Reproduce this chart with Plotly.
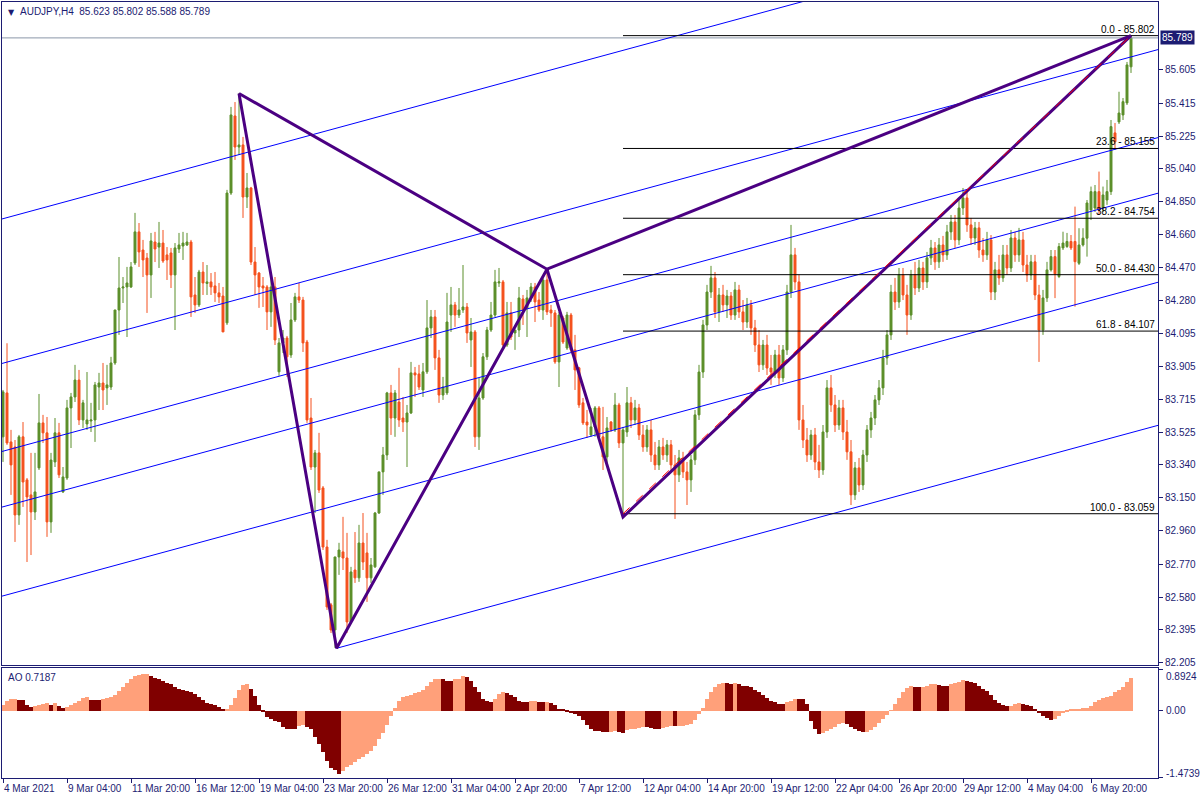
import plotly.graph_objects as go

# ---------------- data ----------------
opens = [83.500,83.752,83.471,83.442,83.052,83.500,83.253,83.167,83.069,83.322,
83.580,83.523,83.012,83.356,83.523,83.184,83.264,83.666,83.729,83.826,
83.597,83.574,83.591,83.597,83.786,83.809,83.781,83.786,83.924,84.228,
84.354,84.360,84.360,84.498,84.676,84.572,84.526,84.429,84.618,84.589,
84.612,84.544,84.555,84.429,84.578,84.595,84.601,84.618,84.314,84.257,
84.446,84.380,84.389,84.366,84.326,84.308,84.154,84.899,85.341,85.163,
85.175,84.876,84.928,84.503,84.440,84.366,84.360,84.217,84.360,83.873,
84.039,84.067,83.970,84.171,84.303,84.285,84.044,83.608,83.327,83.408,
83.207,82.868,82.536,82.392,82.811,82.840,82.805,82.438,82.736,82.691,
82.891,82.834,82.691,82.754,83.063,83.299,83.396,83.752,83.608,83.700,
83.608,83.585,83.637,83.867,83.861,83.769,83.873,84.125,84.188,83.953,
83.740,83.752,84.199,84.257,84.199,84.228,84.245,84.056,84.102,83.500,
83.723,83.959,84.113,84.199,84.383,84.389,84.027,84.211,84.096,84.113,
84.291,84.240,84.297,84.360,84.285,84.228,84.400,84.228,84.211,83.930,
84.182,84.010,84.199,83.999,83.896,83.695,83.585,83.511,83.557,83.666,
83.500,83.385,83.585,83.540,83.683,83.465,83.528,
83.695,83.597,83.666,83.511,83.442,83.540,83.396,83.339,83.442,83.396,
83.454,83.339,83.282,83.379,83.299,83.253,83.368,83.626,83.872,84.142,
84.331,84.412,84.217,84.314,84.257,84.308,84.199,84.343,84.217,84.159,
84.257,84.125,84.027,83.913,84.027,83.895,83.872,83.970,83.838,83.999,
84.331,84.544,84.389,83.597,83.482,83.396,83.511,83.356,83.310,83.528,
83.781,83.683,83.568,83.666,83.528,83.414,83.167,83.322,83.224,83.396,
83.540,83.608,83.712,83.781,83.953,84.085,84.331,84.274,84.429,84.314,
84.199,84.429,84.354,84.469,84.389,84.527,84.584,84.504,84.601,84.544,
84.676,84.733,84.630,84.813,84.871,84.716,84.641,84.699,84.572,84.544,
84.630,84.331,84.458,84.412,84.544,84.469,84.641,84.544,84.630,84.486,
84.429,84.504,84.314,84.113,84.297,
84.458,84.534,84.420,84.584,84.592,84.621,84.621,84.496,84.601,84.640,
84.802,84.813,84.907,84.813,84.859,84.907,85.244,85.307,85.347,85.416,85.623]

highs = [83.769,84.037,83.540,83.482,83.511,83.585,83.264,83.408,83.408,83.746,
83.626,83.614,83.408,83.608,83.580,83.327,83.712,83.752,83.913,83.884,
83.712,83.872,83.695,83.815,83.867,83.924,83.913,83.959,84.228,84.532,
84.417,84.475,84.503,84.785,84.727,84.630,84.555,84.670,84.676,84.733,
84.687,84.589,84.584,84.612,84.670,84.676,84.670,84.630,84.417,84.458,
84.503,84.486,84.440,84.446,84.383,84.360,84.917,85.393,85.421,85.473,
85.221,85.014,84.934,84.589,84.446,84.417,84.371,84.446,84.417,84.067,
84.113,84.079,84.268,84.326,84.383,84.303,84.056,83.723,83.425,83.523,
83.218,82.909,82.547,82.811,82.892,83.041,82.949,82.754,82.954,82.995,
83.063,82.949,82.805,83.069,83.299,83.442,83.758,83.798,83.769,83.896,
83.729,83.683,83.930,83.901,83.913,83.924,84.285,84.228,84.228,83.999,
83.844,84.326,84.360,84.274,84.354,84.486,84.268,84.182,84.113,83.838,
83.981,84.131,84.274,84.458,84.469,84.400,84.274,84.274,84.113,84.360,
84.314,84.343,84.383,84.383,84.331,84.412,84.458,84.257,84.228,84.217,
84.194,84.217,84.211,84.085,83.901,83.723,83.654,83.666,83.677,83.677,
83.672,83.614,83.591,83.752,83.695,83.557,83.786,
83.729,83.712,83.689,83.568,83.568,83.597,83.471,83.482,83.494,83.482,
83.482,83.396,83.425,83.414,83.356,83.396,83.654,83.913,84.171,84.372,
84.481,84.446,84.354,84.372,84.343,84.331,84.389,84.372,84.285,84.297,
84.285,84.171,84.113,84.056,84.085,83.970,83.999,84.027,84.027,84.372,
84.716,84.584,84.429,83.683,83.551,83.540,83.551,83.454,83.568,83.826,
83.855,83.740,83.712,83.712,83.597,83.482,83.356,83.379,83.425,83.568,
83.643,83.740,83.826,83.999,84.113,84.372,84.412,84.469,84.469,84.372,
84.458,84.504,84.515,84.504,84.561,84.630,84.618,84.641,84.653,84.716,
84.773,84.773,84.859,84.928,84.905,84.756,84.733,84.733,84.641,84.676,
84.658,84.504,84.544,84.601,84.601,84.687,84.676,84.699,84.676,84.544,
84.544,84.544,84.372,84.343,84.504,
84.572,84.572,84.612,84.677,84.670,84.658,84.821,84.697,84.697,84.859,
84.936,84.945,85.022,84.936,84.974,85.318,85.301,85.480,85.444,85.651,85.802]

lows = [83.356,83.454,83.167,82.897,82.995,83.098,82.782,82.822,83.023,83.310,
83.465,82.926,82.949,83.327,83.264,83.178,83.253,83.436,83.700,83.568,
83.551,83.540,83.528,83.471,83.654,83.654,83.683,83.769,83.913,84.085,
84.268,84.073,84.354,84.486,84.475,84.417,84.211,84.297,84.503,84.469,
84.498,84.400,84.354,84.113,84.555,84.515,84.595,84.188,84.211,84.245,
84.314,84.314,84.314,84.274,84.268,84.102,84.142,84.888,85.089,85.117,
84.756,84.813,84.486,84.314,84.240,84.245,84.113,84.131,84.027,83.850,
83.981,83.844,83.953,84.159,84.268,83.987,83.580,83.310,83.063,83.178,
82.851,82.507,82.375,82.289,82.708,82.736,82.375,82.427,82.662,82.668,
82.736,82.553,82.662,82.748,83.058,83.167,83.367,83.511,83.500,83.557,
83.528,83.327,83.631,83.729,83.769,83.729,83.861,84.067,83.884,83.695,
83.712,83.740,84.102,84.131,84.182,84.211,84.039,83.901,83.442,83.425,
83.712,83.941,84.102,84.188,84.360,84.016,84.016,84.056,83.999,84.073,
84.142,84.073,84.274,84.159,84.217,84.171,84.199,84.131,83.919,83.786,
84.033,83.999,83.987,83.769,83.666,83.568,83.494,83.500,83.500,83.482,
83.310,83.327,83.528,83.528,83.436,83.059,83.500,
83.551,83.568,83.482,83.414,83.414,83.356,83.310,83.310,83.368,83.356,
83.310,83.029,83.241,83.264,83.109,83.184,83.339,83.597,83.838,84.113,
84.297,84.182,84.159,84.217,84.182,84.171,84.171,84.182,84.113,84.125,
84.085,83.987,83.872,83.884,83.855,83.798,83.838,83.798,83.815,83.970,
84.297,84.343,83.540,83.436,83.356,83.368,83.310,83.264,83.282,83.494,
83.643,83.528,83.540,83.482,83.368,83.109,83.138,83.184,83.195,83.356,
83.494,83.568,83.683,83.740,83.913,84.056,84.228,84.240,84.285,84.085,
84.171,84.314,84.331,84.343,84.354,84.486,84.458,84.469,84.504,84.515,
84.630,84.584,84.601,84.773,84.676,84.601,84.601,84.527,84.504,84.515,
84.285,84.285,84.372,84.389,84.429,84.446,84.504,84.504,84.446,84.389,
84.400,84.285,83.930,84.085,84.274,
84.448,84.296,84.411,84.572,84.584,84.572,84.247,84.486,84.592,84.534,
84.744,84.790,84.773,84.790,84.831,84.888,85.146,85.295,85.318,85.404,85.588]

closes = [83.758,83.465,83.339,83.052,83.500,83.241,83.155,83.069,83.184,83.580,
83.523,83.012,83.367,83.523,83.282,83.270,83.666,83.729,83.826,83.597,
83.695,83.597,83.597,83.798,83.809,83.769,83.798,83.924,84.228,84.354,
84.360,84.383,84.475,84.676,84.561,84.515,84.429,84.624,84.578,84.612,
84.509,84.515,84.429,84.584,84.601,84.612,84.618,84.303,84.257,84.446,
84.383,84.389,84.360,84.326,84.303,84.102,84.899,85.347,85.163,85.175,
84.876,84.928,84.503,84.429,84.360,84.354,84.217,84.360,84.056,84.039,
84.067,83.959,84.171,84.303,84.285,84.039,83.597,83.327,83.408,83.195,
82.868,82.524,82.392,82.811,82.851,82.805,82.438,82.725,82.691,82.891,
82.782,82.691,82.765,83.063,83.299,83.396,83.752,83.608,83.752,83.597,
83.585,83.637,83.867,83.855,83.786,83.873,84.125,84.188,83.953,83.740,
83.786,84.159,84.257,84.199,84.228,84.245,84.096,84.102,83.500,83.723,
83.959,84.113,84.199,84.389,84.389,84.027,84.211,84.073,84.113,84.297,
84.228,84.297,84.360,84.274,84.228,84.400,84.217,84.211,83.930,84.199,
84.044,84.199,83.999,83.884,83.683,83.580,83.568,83.557,83.666,83.500,
83.385,83.551,83.540,83.683,83.465,83.540,83.695,
83.597,83.666,83.511,83.442,83.540,83.396,83.339,83.442,83.396,83.454,
83.339,83.282,83.379,83.299,83.253,83.368,83.626,83.872,84.142,84.331,
84.412,84.217,84.314,84.257,84.308,84.199,84.343,84.217,84.159,84.257,
84.125,84.027,83.913,84.027,83.895,83.872,83.970,83.838,83.999,84.331,
84.544,84.389,83.597,83.482,83.396,83.511,83.356,83.310,83.528,83.781,
83.683,83.568,83.666,83.528,83.414,83.167,83.322,83.224,83.396,83.540,
83.608,83.712,83.781,83.953,84.085,84.331,84.274,84.429,84.314,84.199,
84.429,84.354,84.469,84.389,84.527,84.584,84.504,84.601,84.544,84.676,
84.733,84.630,84.813,84.871,84.716,84.641,84.699,84.572,84.544,84.630,
84.331,84.458,84.412,84.544,84.469,84.641,84.544,84.630,84.486,84.429,
84.504,84.314,84.113,84.297,84.458,
84.534,84.435,84.592,84.612,84.621,84.584,84.505,84.601,84.640,84.842,
84.907,84.907,84.802,84.888,84.907,85.280,85.193,85.358,85.423,85.634,85.789]

bar_idx = list(range(len(closes)))

ao_values = [0.115,0.20,0.255,0.262,0.24,0.22,0.115,0.07,0.094,0.13,
0.144,0.158,0.13,0.158,0.108,0.065,0.072,0.115,0.158,0.216,
0.266,0.30,0.238,0.237,0.23,0.252,0.266,0.30,0.345,0.42,
0.525,0.61,0.69,0.763,0.785,0.80,0.806,0.763,0.72,0.684,
0.648,0.612,0.576,0.525,0.475,0.44,0.418,0.403,0.367,0.295,
0.223,0.158,0.137,0.115,0.086,0.014,0.043,0.122,0.28,0.44,
0.554,0.59,0.48,0.31,0.115,-0.03,-0.15,-0.194,-0.223,-0.26,
-0.36,-0.396,-0.41,-0.412,-0.34,-0.31,-0.353,-0.41,-0.576,-0.734,
-0.914,-1.10,-1.25,-1.296,-1.38,-1.325,-1.24,-1.19,-1.12,-1.07,
-1.02,-0.95,-0.88,-0.77,-0.626,-0.50,-0.32,-0.12,0.058,0.216,
0.288,0.31,0.345,0.38,0.40,0.45,0.54,0.626,0.69,0.695,
0.684,0.655,0.65,0.69,0.695,0.756,0.74,0.655,0.525,0.40,
0.252,0.216,0.194,0.252,0.367,0.403,0.38,0.338,0.288,0.20,
0.194,0.187,0.20,0.216,0.194,0.19,0.195,0.173,0.115,0.043,
0.022,-0.014,-0.05,-0.08,-0.122,-0.216,-0.31,-0.41,-0.446,-0.454,
-0.468,-0.47,-0.46,-0.446,-0.46,-0.482,-0.425,-0.41,-0.396,-0.374,
-0.353,-0.367,-0.389,-0.396,-0.41,-0.374,-0.353,-0.338,-0.345,-0.340,
-0.331,-0.324,-0.302,-0.209,-0.086,0.058,0.252,0.403,0.511,0.576,
0.598,0.595,0.583,0.605,0.583,0.547,0.533,0.504,0.454,0.396,
0.346,0.274,0.216,0.18,0.151,0.144,0.18,0.216,0.259,0.255,
0.25,0.15,-0.23,-0.40,-0.52,-0.497,-0.446,-0.396,-0.353,-0.302,
-0.266,-0.302,-0.353,-0.41,-0.454,-0.468,-0.46,-0.425,-0.353,-0.266,
-0.194,-0.108,0.01,0.144,0.274,0.396,0.482,0.54,0.518,0.515,
0.525,0.547,0.576,0.583,0.554,0.547,0.545,0.576,0.612,0.634,
0.67,0.655,0.634,0.598,0.54,0.475,0.418,0.331,0.238,0.166,
0.122,0.094,0.108,0.144,0.166,0.151,0.122,0.094,0.036,-0.065,
-0.122,-0.166,-0.209,-0.18,-0.122,-0.065,-0.036,0.014,0.036,0.043,
0.05,0.065,0.108,0.18,0.23,0.266,0.295,0.324,0.396,0.454,
0.525,0.634,0.7187]

time_tick_bars = [0,16,32,48,64,80,96,112,128,144,160,176,192,208,224,240,256,272]
time_tick_labels = ["4 Mar 2021","9 Mar 04:00","11 Mar 20:00","16 Mar 12:00","19 Mar 04:00",
"23 Mar 20:00","26 Mar 12:00","31 Mar 04:00","2 Apr 20:00","7 Apr 12:00","12 Apr 04:00",
"14 Apr 20:00","19 Apr 12:00","22 Apr 04:00","26 Apr 20:00","29 Apr 12:00","4 May 04:00","6 May 20:00"]

price_ticks = [85.605,85.415,85.225,85.040,84.850,84.660,84.470,84.280,84.095,83.905,
83.715,83.525,83.340,83.150,82.960,82.770,82.580,82.395,82.205]

last_price = 85.789
title_text = "AUDJPY,H4  85.623 85.802 85.588 85.789"
ao_label = "AO 0.7187"
ao_tick_text = ["0.8924", "0.00", "-1.4739"]

# Fibonacci retracement (from C low to D high)
fib_levels = [0.0, 23.6, 38.2, 50.0, 61.8, 100.0]
fib_bars = [155, 282]
fib_low, fib_high = 83.059, 85.802

# harmonic pattern points X, A, B, C, D
pat_bars = [59, 83.4, 136, 155, 282]
pat_prices = [85.470, 82.287, 84.462, 83.040, 85.802]

# parallel channel lines (price at left edge / right edge)
chan_left = [84.747, 83.918, 83.413, 83.094, 82.583]
chan_right = [86.551, 85.722, 85.217, 84.898, 84.387]
chan_a_bars = [83.4, 288.75]
chan_a_prices = [82.287, 83.566]

# ---------------- styling ----------------
NAVY = "#1c1c72"
GREEN = "#5b8f2a"
RED = "#f4511e"
FONT = "Liberation Sans"
XR = [-0.25, 288.75]

fig = go.Figure()

# bid line
fig.add_trace(go.Scatter(x=XR, y=[last_price, last_price], mode="lines",
                         line=dict(color="#8a96a8", width=1), hoverinfo="skip",
                         showlegend=False, xaxis="x", yaxis="y"))

fig.add_trace(go.Candlestick(
    x=bar_idx, open=opens, high=highs, low=lows, close=closes,
    increasing=dict(line=dict(color=GREEN, width=1), fillcolor=GREEN),
    decreasing=dict(line=dict(color=RED, width=1), fillcolor=RED),
    whiskerwidth=0, showlegend=False, hoverinfo="skip", xaxis="x", yaxis="y"))

# channel lines
for pl, pr in zip(chan_left, chan_right):
    fig.add_trace(go.Scatter(x=[-0.75, 288.75], y=[pl, pr], mode="lines",
                             line=dict(color="#0000ff", width=1), hoverinfo="skip",
                             showlegend=False, xaxis="x", yaxis="y"))
fig.add_trace(go.Scatter(x=chan_a_bars, y=chan_a_prices, mode="lines",
                         line=dict(color="#0000ff", width=1), hoverinfo="skip",
                         showlegend=False, xaxis="x", yaxis="y"))

# fib levels
rng = fib_high - fib_low
annotations = []
for lv in fib_levels:
    p = fib_high - rng * lv / 100.0
    fig.add_trace(go.Scatter(x=[fib_bars[0], XR[1]], y=[p, p], mode="lines",
                             line=dict(color="black", width=1), hoverinfo="skip",
                             showlegend=False, xaxis="x", yaxis="y"))
    annotations.append(dict(x=1157 / 1200, xref="paper", y=p, yref="y",
                            text=f"{lv:.1f} - {p:.3f}", showarrow=False,
                            xanchor="right", yanchor="bottom", yshift=-1,
                            font=dict(family=FONT, size=10, color="black")))

# harmonic pattern
px_ = pat_bars
py_ = pat_prices
fig.add_trace(go.Scatter(
    x=[px_[0], px_[1], px_[2], px_[3], px_[4], None, px_[0], px_[2], px_[4]],
    y=[py_[0], py_[1], py_[2], py_[3], py_[4], None, py_[0], py_[2], py_[4]],
    mode="lines", line=dict(color="#4b0082", width=3), hoverinfo="skip",
    showlegend=False, xaxis="x", yaxis="y"))
# fib trend line
fig.add_trace(go.Scatter(x=fib_bars, y=[fib_low, fib_high], mode="lines",
                         line=dict(color="#ff0000", width=1, dash="dash"), hoverinfo="skip",
                         showlegend=False, xaxis="x", yaxis="y"))

# AO histogram
ao_colors = []
for i, v in enumerate(ao_values):
    if i == 0 or v > ao_values[i - 1]:
        ao_colors.append("#ffa07a")
    else:
        ao_colors.append("#800000")
fig.add_trace(go.Bar(x=list(range(len(ao_values))), y=ao_values, width=1.0,
                     marker=dict(color=ao_colors, line=dict(width=0)),
                     hoverinfo="skip", showlegend=False, xaxis="x2", yaxis="y2"))

# text annotations
annotations.append(dict(x=6 / 1200, xref="paper", y=1 - 12 / 800, yref="paper",
                        text="▼", showarrow=False, xanchor="left", yanchor="middle",
                        font=dict(family="DejaVu Sans", size=8, color=NAVY)))
annotations.append(dict(x=18 / 1200, xref="paper", y=1 - 11 / 800, yref="paper",
                        text=title_text, showarrow=False, xanchor="left", yanchor="middle",
                        font=dict(family=FONT, size=10, color=NAVY)))
annotations.append(dict(x=6 / 1200, xref="paper", y=1 - 677 / 800, yref="paper",
                        text=ao_label, showarrow=False, xanchor="left", yanchor="middle",
                        font=dict(family=FONT, size=10, color=NAVY)))
annotations.append(dict(x=1160 / 1200, xref="paper", y=last_price, yref="y",
                        text=f"{last_price:.3f}", showarrow=False, xanchor="left",
                        yanchor="middle", bgcolor=NAVY, borderpad=1,
                        font=dict(family=FONT, size=10, color="white")))
for val_y, txt in zip([0.755, 0.0, -1.368], ao_tick_text):
    annotations.append(dict(x=1164 / 1200, xref="paper", y=val_y, yref="y2",
                            text=txt, showarrow=False, xanchor="left", yanchor="middle",
                            font=dict(family=FONT, size=10, color=NAVY)))
for b, t in zip(time_tick_bars, time_tick_labels):
    annotations.append(dict(x=b, xref="x2", y=1 - 788 / 800, yref="paper",
                            text=t, showarrow=False, xanchor="left", yanchor="middle",
                            xshift=-1, font=dict(family=FONT, size=10, color=NAVY)))

axis_common = dict(showgrid=False, zeroline=False, showline=True, mirror=True,
                   linecolor=NAVY, linewidth=1, fixedrange=True)

fig.update_layout(
    width=1200, height=800, margin=dict(l=0, r=0, t=0, b=0),
    paper_bgcolor="white", plot_bgcolor="white", template="none",
    bargap=0, hovermode=False, showlegend=False,
    xaxis=dict(domain=[2 / 1200, 1158 / 1200], range=XR, anchor="y",
               showticklabels=False, ticks="", rangeslider=dict(visible=False),
               **axis_common),
    yaxis=dict(domain=[1 - 665 / 800, 1 - 2 / 800], range=[82.191, 85.995], anchor="x",
               side="right", tickvals=price_ticks, tickformat=".3f", ticks="outside",
               ticklen=4, tickcolor=NAVY, tickfont=dict(family=FONT, size=10, color=NAVY),
               **axis_common),
    xaxis2=dict(domain=[2 / 1200, 1158 / 1200], range=XR, anchor="y2",
                tickvals=time_tick_bars, ticks="outside", ticklen=4, tickcolor=NAVY,
                showticklabels=False, **axis_common),
    yaxis2=dict(domain=[1 - 778 / 800, 1 - 668 / 800], range=[-1.476, 0.93], anchor="x2",
                side="right", tickvals=[0.8924, 0.0, -1.4739], ticks="outside", ticklen=4,
                tickcolor=NAVY, showticklabels=False, **axis_common),
    annotations=annotations,
)

fig.write_html("out.html", config={"displayModeBar": False},
               post_script="document.body.style.margin='0';document.body.style.overflow='hidden';")
